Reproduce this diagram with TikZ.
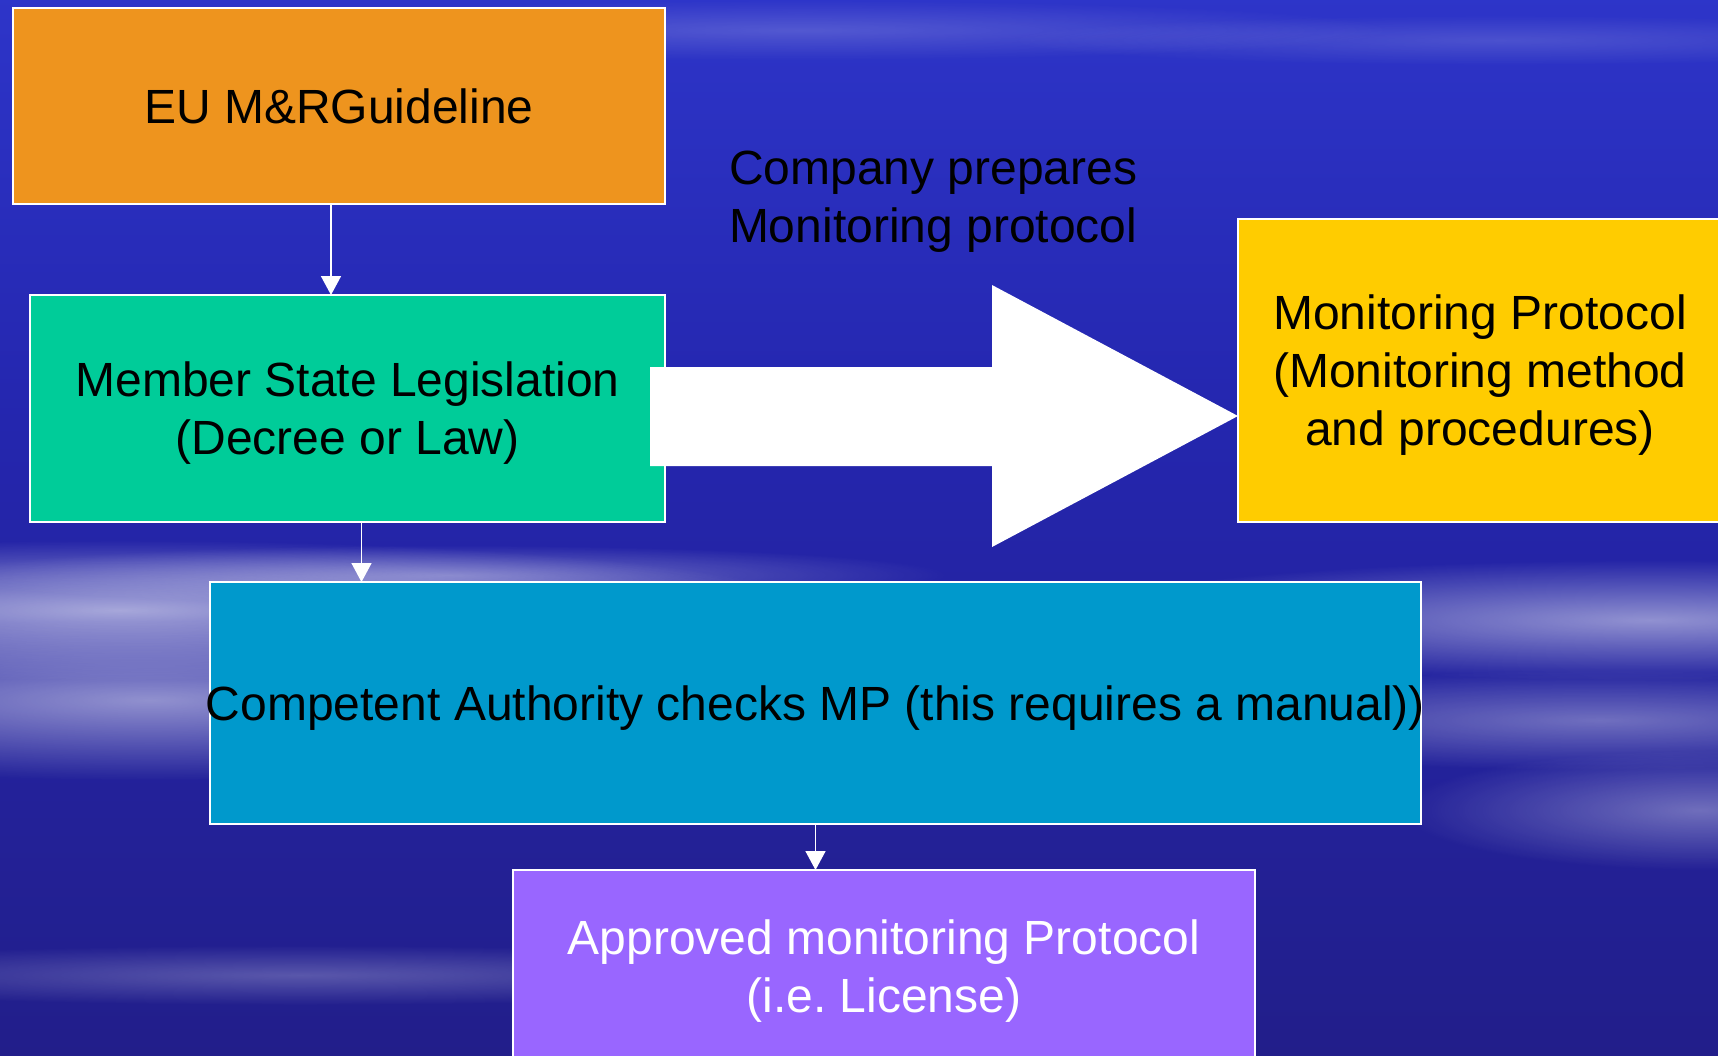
\documentclass[tikz,border=0pt]{standalone}
\usepackage{fontspec}
\setmainfont{Liberation Sans}
\usepackage{xcolor}
\usepackage{tikz}
\usetikzlibrary{arrows.meta,fadings}
\definecolor{GuideOrange}{HTML}{EE941E}
\definecolor{LawGreen}{HTML}{00CC99}
\definecolor{ProtoYellow}{HTML}{FFCC00}
\definecolor{CheckBlue}{HTML}{0099CC}
\definecolor{LicViolet}{HTML}{9966FF}
\definecolor{SkyTop}{HTML}{4250E8}
\definecolor{SkyHigh}{HTML}{323CD6}
\definecolor{SkyMid}{HTML}{2426AE}
\definecolor{SkyLow}{HTML}{221E8A}
\definecolor{SkyBot}{HTML}{201A76}
\pgfdeclareverticalshading{skyfade}{100bp}{color(0bp)=(SkyBot); color(25bp)=(SkyLow); color(55bp)=(SkyMid); color(85bp)=(SkyHigh); color(100bp)=(SkyTop)}
\tikzfading[name=softblob,inner color=transparent!0,outer color=transparent!100]
\newcommand{\hiline}{\rule{0pt}{0.93em}}
\newcommand{\loline}{\rule[-0.2em]{0pt}{0.2em}}
\frenchspacing

\begin{document}
\begin{tikzpicture}[x=0.5pt,y=-0.5pt,>={Triangle[length=9.5pt,width=10pt]},
  box/.style={draw=white,line width=1pt,inner sep=0pt,outer sep=0pt,align=center,font=\fontsize{24}{29}\selectfont},
  link/.style={->,draw=white,line width=0.8pt},
  streak/.style={fill=white,path fading=softblob}]
\useasboundingbox (0,0) rectangle (1718,1055);
\clip (0,0) rectangle (1718,1055);
\shade[shading=skyfade] (0,0) rectangle (1718,1055);
% cloud streaks
\fill[streak,opacity=.6] (120,610) ellipse (700 and 70);
\fill[streak,opacity=.5] (150,700) ellipse (600 and 80);
\fill[streak,opacity=.35] (450,575) ellipse (500 and 30);
\fill[streak,opacity=.5] (1650,620) ellipse (600 and 60);
\fill[streak,opacity=.35] (1600,720) ellipse (500 and 50);
\fill[streak,opacity=.35] (1700,810) ellipse (300 and 60);
\fill[streak,opacity=.25] (300,975) ellipse (600 and 30);
\fill[streak,opacity=.18] (800,30) ellipse (600 and 30);
\fill[streak,opacity=.15] (1500,40) ellipse (500 and 25);
% boxes
\node[box,fill=GuideOrange,minimum width=326pt,minimum height=98pt] (eu) at (339,106) {\hiline EU M\&RGuideline\loline};
\node[box,fill=LawGreen,minimum width=317.5pt,minimum height=113.5pt] (ms) at (347.5,408.5) {\hiline Member State Legislation\\(Decree or Law)\loline};
\node[box,fill=ProtoYellow,minimum width=242pt,minimum height=151.5pt] (mp) at (1480,370.5) {\hiline Monitoring Protocol\\(Monitoring method\\and procedures)\loline};
\node[box,fill=CheckBlue,minimum width=605.5pt,minimum height=121pt] (ca) at (815.5,703) {\makebox[0pt]{\hiline Competent Authority checks MP (this requires a manual))\loline}};
\node[box,fill=LicViolet,text=white,minimum width=371pt,minimum height=96pt] (ap) at (884,966) {\hiline Approved monitoring Protocol\\(i.e. License)\loline};
\node[box,draw=none,align=left,anchor=west] (cp) at (729,196.5) {\hiline Company prepares\\Monitoring protocol\loline};
% big arrow
\fill[white] (650,367) -- (992,367) -- (992,285) -- (1238,416) -- (992,547) -- (992,466) -- (650,466) -- cycle;
% links
\draw[link] ([xshift=-4pt]eu.south) -- ([xshift=-4pt]eu.south |- ms.north);
\draw[link] ([xshift=7pt]ms.south) -- ([xshift=7pt]ms.south |- ca.north);
\draw[link] (ca.south) -- (ca.south |- ap.north);
\end{tikzpicture}
\end{document}
